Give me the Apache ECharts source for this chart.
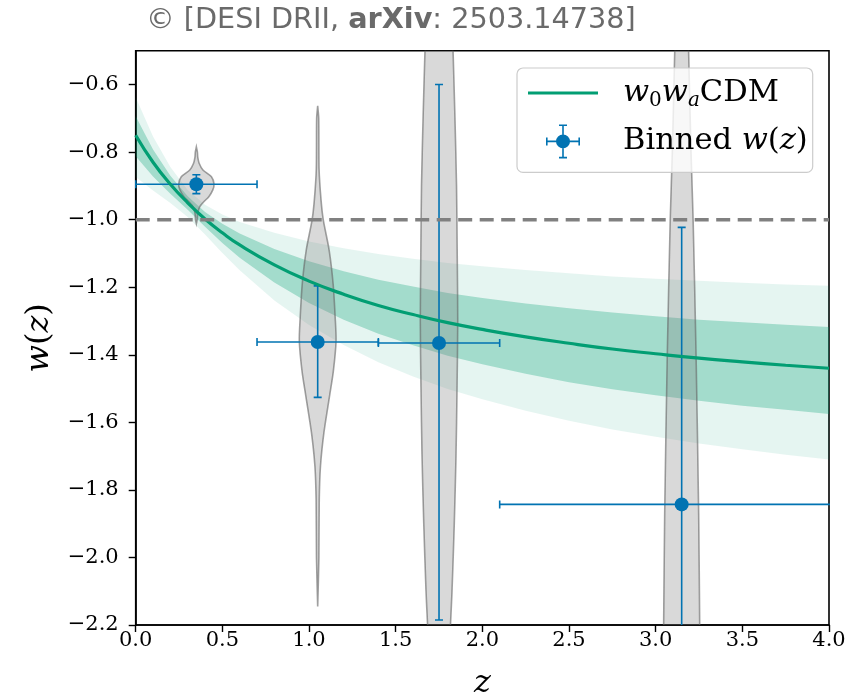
<!DOCTYPE html>
<html><head><meta charset="utf-8">
<script src="https://cdn.jsdelivr.net/npm/echarts@6/dist/echarts.min.js"></script>
<style>html,body{margin:0;padding:0;background:#fff}#c{width:861px;height:699px}</style>
</head><body><div id="c"></div>
<script>
// ---------- data ----------
const xTicks = [0, 0.5, 1.0, 1.5, 2.0, 2.5, 3.0, 3.5, 4.0];
const yTicks = [-2.2, -2.0, -1.8, -1.6, -1.4, -1.2, -1.0, -0.8, -0.6];

// w0waCDM best-fit curve and its 1σ / 2σ bands
const zGrid = [0, 0.1, 0.2, 0.3, 0.4, 0.5, 0.6, 0.8, 1.0, 1.2, 1.4, 1.6, 1.8, 2.0, 2.25, 2.5, 2.75, 3.0, 3.25, 3.5, 3.75, 4.0];
const wCurve = [-0.750, -0.830, -0.895, -0.950, -0.998, -1.039, -1.075, -1.134, -1.182, -1.221, -1.254, -1.281, -1.305, -1.325, -1.347, -1.366, -1.383, -1.397, -1.410, -1.421, -1.431, -1.440];
const oneSigmaUpper = [-0.694, -0.792, -0.870, -0.931, -0.977, -1.012, -1.041, -1.087, -1.123, -1.153, -1.178, -1.198, -1.217, -1.232, -1.248, -1.262, -1.275, -1.286, -1.296, -1.304, -1.311, -1.318];
const oneSigmaLower = [-0.812, -0.872, -0.923, -0.971, -1.021, -1.069, -1.113, -1.186, -1.247, -1.296, -1.338, -1.372, -1.403, -1.428, -1.456, -1.481, -1.502, -1.520, -1.536, -1.551, -1.563, -1.575];
const twoSigmaUpper = [-0.638, -0.754, -0.844, -0.912, -0.956, -0.985, -1.007, -1.039, -1.065, -1.085, -1.102, -1.116, -1.128, -1.138, -1.149, -1.159, -1.168, -1.175, -1.181, -1.187, -1.192, -1.196];
const twoSigmaLower = [-0.874, -0.914, -0.951, -0.992, -1.044, -1.099, -1.150, -1.239, -1.312, -1.371, -1.422, -1.464, -1.501, -1.532, -1.566, -1.595, -1.621, -1.643, -1.663, -1.680, -1.696, -1.710];

// reference line w = -1
const wLambda = -1.0;

// binned w(z)
const binZ = [0.35, 1.05, 1.75, 3.15];
const binW = [-0.895, -1.362, -1.365, -1.843];
const binZLow = [0.0, 0.7, 1.4, 2.1];
const binZHigh = [0.7, 1.4, 2.1, 4.2];
const binErrUp = [0.028, 0.166, 0.765, 0.82];
const binErrDown = [0.028, 0.164, 0.82, 0.82];

// violin outlines: w levels and half widths (in z units)
const violin1Levels = [-0.785, -0.800, -0.815, -0.833, -0.853, -0.873, -0.895, -0.912, -0.932, -0.947, -0.962, -0.981, -1.000, -1.012];
const violin1Half   = [0.000, 0.006, 0.008, 0.016, 0.038, 0.087, 0.102, 0.095, 0.072, 0.043, 0.019, 0.008, 0.005, 0.000];
const violin2Levels = [-0.663, -0.700, -0.850, -0.940, -1.000, -1.090, -1.190, -1.290, -1.360, -1.450, -1.520, -1.630, -1.730, -1.830, -2.000, -2.145];
const violin2Half   = [0.000, 0.006, 0.008, 0.019, 0.032, 0.066, 0.089, 0.101, 0.106, 0.090, 0.069, 0.036, 0.016, 0.009, 0.007, 0.000];
const violin3Levels = [-0.40, -0.50, -0.70, -0.90, -1.10, -1.30, -1.50, -1.70, -1.90, -2.10, -2.20, -2.30];
const violin3Half   = [0.075, 0.081, 0.092, 0.101, 0.105, 0.108, 0.104, 0.098, 0.088, 0.075, 0.066, 0.058];
const violin4Levels = [-0.40, -0.50, -0.80, -1.00, -1.40, -1.87, -2.20, -2.30];
const violin4Half   = [0.036, 0.040, 0.054, 0.066, 0.083, 0.098, 0.104, 0.106];

// ---------- styling ----------
const GREEN = '#029e73';
const BLUE = '#0173b2';
const SERIF = 'DejaVu Serif';
const violinLevels = [violin1Levels, violin2Levels, violin3Levels, violin4Levels];
const violinHalf = [violin1Half, violin2Half, violin3Half, violin4Half];

function fmtTick(v) {
  return (v < 0 ? '\u2212' : '') + Math.abs(v).toFixed(1);
}

const lineIcon = 'path://M0,0 L0.01,0 L0,0.01 Z M0,15.4 H70 V18.6 H0 Z M70,34 L69.99,34 L70,33.99 Z';
const errIcon = 'path://' +
  'M0,17 L0.01,17 L0,17.01 Z ' +
  'M70,17 L69.99,17 L70,17.01 Z ' +
  'M18,16.2 H52 V17.8 H18 Z ' +
  'M34.2,0 H35.8 V34 H34.2 Z ' +
  'M18,13 H19.6 V21 H18 Z ' +
  'M50.4,13 H52 V21 H50.4 Z ' +
  'M31,0 H39 V1.6 H31 Z ' +
  'M31,32.4 H39 V34 H31 Z ' +
  'M28,17 A7,7 0 1,1 42,17 A7,7 0 1,1 28,17 Z';

const legendLabels = {
  'w0waCDM': '{i|w}{s|0}{i|w}{si|a}{n|CDM}',
  'Binned w(z)': '{n|Binned }{i|w}{n|(}{i|z}{n|)}'
};
const LFS = 30.5, LLH = 36;

const chart = echarts.init(document.getElementById('c'), null, { renderer: 'canvas' });

const option = {
  animation: false,
  backgroundColor: '#ffffff',
  title: {
    text: '{n|\u00a9 [DESI DRII, }{b|arXiv}{n|: 2503.14738]}',
    left: 146, top: 6, padding: 0,
    textStyle: {
      fontWeight: 'normal',
      rich: {
        n: { fontFamily: 'DejaVu Sans', fontSize: 28.7, color: '#6a6a6a', fontWeight: 'normal' },
        b: { fontFamily: 'DejaVu Sans', fontSize: 28.7, color: '#6a6a6a', fontWeight: 'bold' }
      }
    }
  },
  grid: {
    left: 135.7, right: 32, top: 50.75, bottom: 74,
    outerBoundsMode: 'none', containLabel: false,
    show: true, borderColor: '#000', borderWidth: 1.6, backgroundColor: 'transparent'
  },
  legend: {
    orient: 'vertical', left: 517, top: 68,
    data: [{ name: 'w0waCDM', icon: lineIcon }, { name: 'Binned w(z)', icon: errIcon }],
    itemWidth: 70, itemHeight: 34, itemGap: 12.4,
    padding: [7, 5, 13, 11],
    backgroundColor: 'rgba(255,255,255,0.8)', borderColor: '#cccccc', borderWidth: 1.2, borderRadius: 6,
    selectedMode: false,
    formatter: name => legendLabels[name],
    textStyle: {
      fontFamily: SERIF, fontSize: LFS, color: '#000', padding: [0, 0, 0, 20], lineHeight: LLH,
      rich: {
        i: { fontFamily: SERIF, fontSize: LFS, fontStyle: 'italic', color: '#000', lineHeight: LLH },
        n: { fontFamily: SERIF, fontSize: LFS, color: '#000', lineHeight: LLH },
        s: { fontFamily: SERIF, fontSize: 20, color: '#000', lineHeight: LLH, verticalAlign: 'bottom' },
        si: { fontFamily: SERIF, fontSize: 20, fontStyle: 'italic', color: '#000', lineHeight: LLH, verticalAlign: 'bottom' }
      }
    }
  },
  xAxis: {
    type: 'value', min: 0, max: 4,
    name: '{i|z}', nameLocation: 'middle', nameGap: 43,
    nameTextStyle: { fontFamily: SERIF, fontSize: 32, color: '#000',
      rich: { i: { fontFamily: SERIF, fontSize: 32, fontStyle: 'italic', color: '#000' } } },
    axisLine: { show: true, lineStyle: { color: '#000', width: 1.6 } },
    axisTick: { show: true, inside: false, length: 7, customValues: xTicks, lineStyle: { color: '#000', width: 1.4 } },
    axisLabel: { customValues: xTicks, formatter: fmtTick, margin: 5, fontFamily: SERIF, fontSize: 21, color: '#000' },
    splitLine: { show: false }
  },
  yAxis: {
    type: 'value', min: -2.2, max: -0.5,
    name: '{i|w}({i|z})', nameLocation: 'middle', nameGap: 80, nameRotate: 90,
    nameTextStyle: { fontFamily: SERIF, fontSize: 32, color: '#000',
      rich: { i: { fontFamily: SERIF, fontSize: 32, fontStyle: 'italic', color: '#000' } } },
    axisLine: { show: true, lineStyle: { color: '#000', width: 1.6 } },
    axisTick: { show: true, inside: false, length: 7, customValues: yTicks, lineStyle: { color: '#000', width: 1.4 } },
    axisLabel: { customValues: yTicks, formatter: fmtTick, margin: 17, fontFamily: SERIF, fontSize: 21, color: '#000' },
    splitLine: { show: false }
  },
  series: [
    {
      type: 'custom', name: 'bands', clip: true, silent: true,
      data: [[zGrid[0], wCurve[0]]],
      renderItem: function (params, api) {
        const mk = (lo, hi) => {
          const pts = [];
          for (let k = 0; k < zGrid.length; k++) pts.push(api.coord([zGrid[k], hi[k]]));
          for (let k = zGrid.length - 1; k >= 0; k--) pts.push(api.coord([zGrid[k], lo[k]]));
          return pts;
        };
        return {
          type: 'group',
          children: [
            { type: 'polygon', shape: { points: mk(twoSigmaLower, twoSigmaUpper) }, style: { fill: 'rgba(2,158,115,0.10)' } },
            { type: 'polygon', shape: { points: mk(oneSigmaLower, oneSigmaUpper) }, style: { fill: 'rgba(2,158,115,0.29)' } }
          ]
        };
      }
    },
    {
      type: 'line', name: 'w0waCDM', data: zGrid.map((z, i) => [z, wCurve[i]]),
      symbol: 'none', smooth: true, silent: true,
      itemStyle: { color: GREEN },
      lineStyle: { color: GREEN, width: 3.2 }
    },
    {
      type: 'custom', name: 'violins', clip: true, silent: true,
      data: binZ.map((z, i) => [z, binW[i]]),
      renderItem: function (params, api) {
        const i = params.dataIndex;
        const c = binZ[i];
        const lv = violinLevels[i], hw = violinHalf[i];
        const pts = [];
        for (let k = 0; k < lv.length; k++) pts.push(api.coord([c + hw[k], lv[k]]));
        for (let k = lv.length - 1; k >= 0; k--) pts.push(api.coord([c - hw[k], lv[k]]));
        return {
          type: 'polygon',
          shape: { points: pts, smooth: 0.25 },
          style: { fill: 'rgba(128,128,128,0.30)', stroke: 'rgba(100,100,100,0.6)', lineWidth: 1.6 }
        };
      }
    },
    {
      type: 'line', name: 'lambda', data: [[0, wLambda], [4, wLambda]],
      symbol: 'none', silent: true,
      lineStyle: { color: '#808080', width: 3.5, type: [14, 7.5] }
    },
    {
      type: 'custom', name: 'Binned w(z)', clip: true, silent: true,
      itemStyle: { color: BLUE },
      data: binZ.map((z, i) => [z, binW[i]]),
      renderItem: function (params, api) {
        const i = params.dataIndex;
        const p = api.coord([binZ[i], binW[i]]);
        const xl = api.coord([binZLow[i], binW[i]]);
        const xh = api.coord([binZHigh[i], binW[i]]);
        const yt = api.coord([binZ[i], binW[i] + binErrUp[i]]);
        const yb = api.coord([binZ[i], binW[i] - binErrDown[i]]);
        const st = { stroke: BLUE, lineWidth: 1.6, fill: null };
        const cap = 4;
        return {
          type: 'group',
          children: [
            { type: 'line', shape: { x1: xl[0], y1: p[1], x2: xh[0], y2: p[1] }, style: st },
            { type: 'line', shape: { x1: p[0], y1: yt[1], x2: p[0], y2: yb[1] }, style: st },
            { type: 'line', shape: { x1: xl[0], y1: p[1] - cap, x2: xl[0], y2: p[1] + cap }, style: st },
            { type: 'line', shape: { x1: xh[0], y1: p[1] - cap, x2: xh[0], y2: p[1] + cap }, style: st },
            { type: 'line', shape: { x1: p[0] - cap, y1: yt[1], x2: p[0] + cap, y2: yt[1] }, style: st },
            { type: 'line', shape: { x1: p[0] - cap, y1: yb[1], x2: p[0] + cap, y2: yb[1] }, style: st },
            { type: 'circle', shape: { cx: p[0], cy: p[1], r: 7 }, style: { fill: BLUE } }
          ]
        };
      }
    }
  ]
};
chart.setOption(option);
</script>
</body></html>
